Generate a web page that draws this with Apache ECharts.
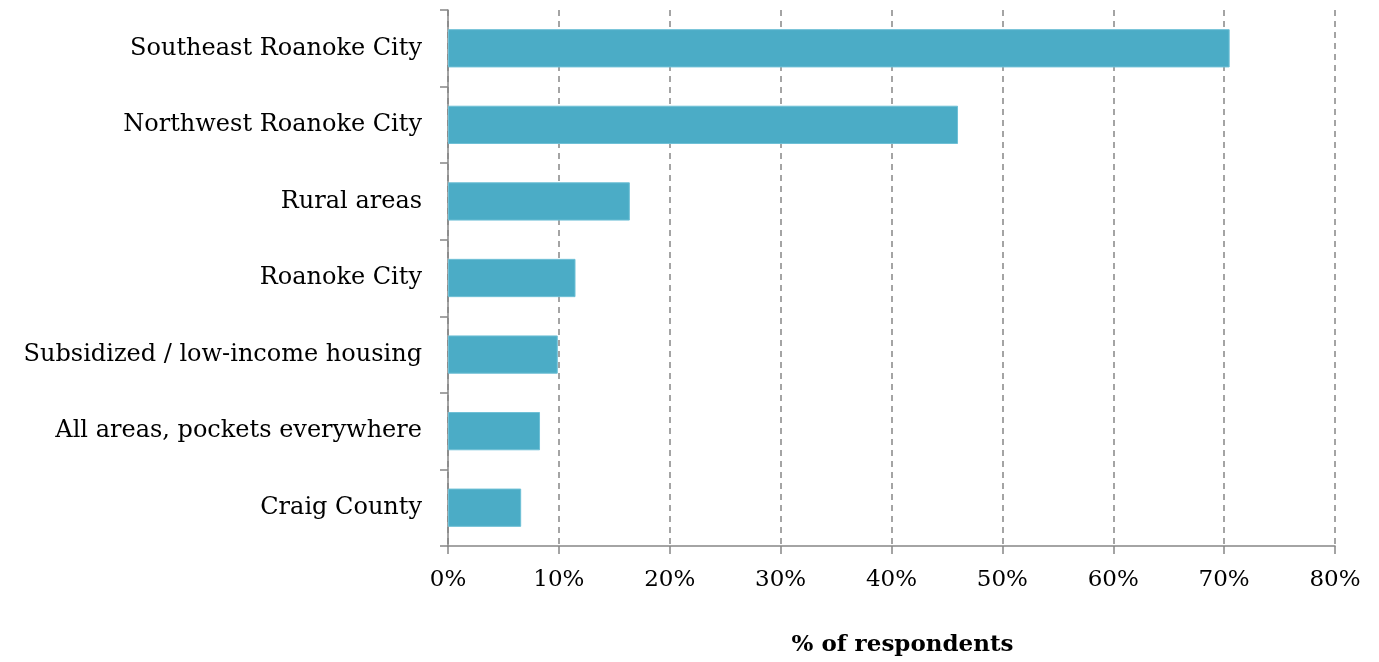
<!DOCTYPE html>
<html>
<head>
<meta charset="utf-8">
<script src="https://cdn.jsdelivr.net/npm/echarts@6/dist/echarts.min.js"></script>
<style>
html,body{margin:0;padding:0;background:#fff;}
#chart{width:1379px;height:662px;}
</style>
</head>
<body>
<div id="chart"></div>
<script>
// areas, top to bottom
var areas = ["Southeast Roanoke City", "Northwest Roanoke City", "Rural areas", "Roanoke City",
    "Subsidized / low-income housing", "All areas, pockets everywhere", "Craig County"];
var pct = [70.5, 46.0, 16.4, 11.5, 9.9, 8.3, 6.6];
var xTicks = [0, 80, 10];  // min, max, step

var fontFam = "'DejaVu Serif', serif";
var grey = "#868686";

var myChart = echarts.init(document.getElementById("chart"));
var option = {
    animation: false,
    grid: {left: 448, right: 44, top: 10, bottom: 116},
    xAxis: {
        type: 'value',
        min: xTicks[0], max: xTicks[1], interval: xTicks[2],
        name: '% of respondents',
        nameLocation: 'middle',
        nameGap: 88,
        nameTextStyle: {fontFamily: fontFam, fontSize: 23, fontWeight: 'bold', color: '#000', padding: [0, 0, 0, 22]},
        axisLine: {show: true, lineStyle: {color: grey, width: 1.5}},
        axisTick: {show: true, length: 8, lineStyle: {color: grey, width: 1.5}},
        axisLabel: {formatter: '{value}%', fontFamily: fontFam, fontSize: 23, color: '#000', margin: 23},
        splitLine: {show: true, lineStyle: {color: grey, type: [6, 5], width: 1.5}}
    },
    yAxis: {
        type: 'category',
        data: areas,
        inverse: true,
        axisLine: {show: true, lineStyle: {color: grey, width: 1.5}},
        axisTick: {show: true, length: 8, lineStyle: {color: grey, width: 1.5}},
        axisLabel: {fontFamily: fontFam, fontSize: 24, color: '#000', margin: 26}
    },
    series: [{
        type: 'bar',
        data: pct,
        barWidth: '50%',
        itemStyle: {color: '#4BACC6', borderColor: '#6FC0D6', borderWidth: 1}
    }]
};
myChart.setOption(option);
</script>
</body>
</html>
